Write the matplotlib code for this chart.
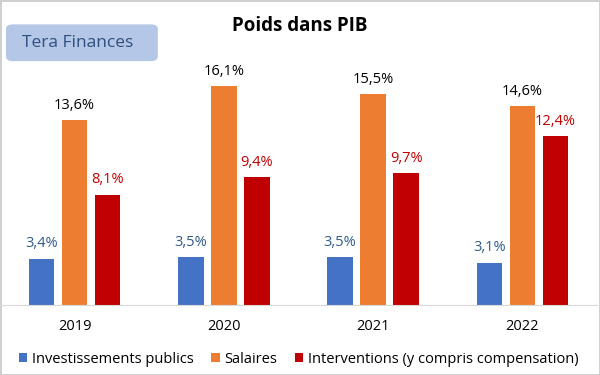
import matplotlib.pyplot as plt
import numpy as np
from matplotlib.patches import FancyBboxPatch

years = ["2019", "2020", "2021", "2022"]
investissements = [3.4, 3.5, 3.5, 3.1]
salaires = [13.6, 16.1, 15.5, 14.6]
interventions = [8.1, 9.4, 9.7, 12.4]

series = [
    ("Investissements publics", investissements, "#4472c4", "#2f5a8c"),
    ("Salaires", salaires, "#ed7d31", "black"),
    ("Interventions (y compris compensation)", interventions, "#c00000", "#c00000"),
]

plt.rcParams["font.family"] = ["Open Sans", "DejaVu Sans"]

fig = plt.figure(figsize=(6, 3.75), dpi=100)
fig.patch.set_edgecolor("#d0d0d0")
fig.patch.set_linewidth(2)
ax = fig.add_axes([0.0, 0.187, 0.995, 0.616])
ax.patch.set_alpha(0)

x = np.arange(len(years))
pitch = 0.221
width = 0.171
for i, (name, vals, color, lcolor) in enumerate(series):
    pos = x + (i - 1) * pitch
    bars = ax.bar(pos, vals, width, color=color, label=name)
    for b, v in zip(bars, vals):
        ax.text(b.get_x() + b.get_width() / 2, v + 0.55,
                f"{v:.1f}%".replace(".", ","),
                ha="center", va="bottom", fontsize=10.5, color=lcolor)

ax.set_xlim(-0.5, 3.5)
ax.set_ylim(0, 17)
ax.set_yticks([])
ax.set_xticks(x)
ax.set_xticklabels(years, fontsize=10.5)
ax.tick_params(axis="x", length=0, pad=10)
for s in ["top", "right", "left"]:
    ax.spines[s].set_visible(False)
ax.spines["bottom"].set_color("#d9d9d9")

fig.text(0.5, 0.93, "Poids dans PIB", ha="center", va="center",
         fontsize=13.5, fontweight="bold")

box = FancyBboxPatch((0.01, 0.837), 0.253, 0.098, boxstyle="round,pad=0,rounding_size=0.012",
                     transform=fig.transFigure, facecolor="#b4c7e7", edgecolor="none")
fig.patches.append(box)
fig.text(0.13, 0.886, "Tera Finances", ha="center", va="center",
         fontsize=12.5, color="#2f4f7f")

ax.legend(loc="center", bbox_to_anchor=(0.5, -0.235), ncol=3, frameon=False,
          fontsize=10.5, handlelength=0.6, handleheight=0.6, handletextpad=0.3,
          columnspacing=1.2)

fig.savefig("out.png", dpi=100)
